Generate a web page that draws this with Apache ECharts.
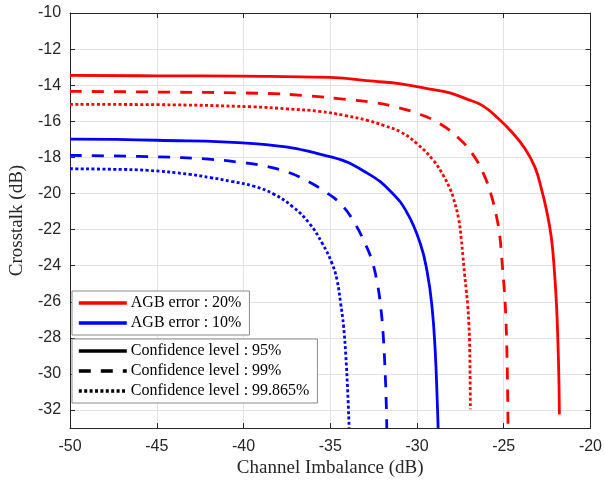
<!DOCTYPE html>
<html>
<head>
<meta charset="utf-8">
<script src="https://cdn.jsdelivr.net/npm/echarts@6/dist/echarts.min.js"></script>
<style>html,body{margin:0;padding:0;background:#fff}#c{width:605px;height:483px}</style>
</head>
<body>
<div id="c"></div>
<script>
// Data: [channel imbalance (dB), crosstalk (dB)]
const red95 = [[-50,-13.46],[-45,-13.48],[-40,-13.5],[-35,-13.57],[-32.5,-13.78],[-30.93,-13.93],[-29.05,-14.25],[-28.11,-14.43],[-27.16,-14.76],[-26.22,-15.13],[-25.28,-15.87],[-24.52,-16.61],[-23.77,-17.52],[-23.2,-18.54],[-22.83,-19.73],[-22.55,-20.85],[-22.26,-22.4],[-22.07,-24.4],[-21.95,-26.3],[-21.88,-28.1],[-21.82,-30.2],[-21.79,-32.24]];
const red99 = [[-50,-14.34],[-45,-14.38],[-39.04,-14.45],[-36.4,-14.58],[-33.76,-14.82],[-32.53,-14.95],[-31.12,-15.23],[-29.9,-15.59],[-28.7,-16.12],[-27.64,-16.9],[-26.79,-17.82],[-26.13,-18.98],[-25.69,-20.19],[-25.37,-21.48],[-25.22,-22.4],[-25.12,-23.5],[-24.97,-25.3],[-24.88,-26.8],[-24.82,-28.6],[-24.78,-30.5],[-24.75,-33]];
const red99865 = [[-50,-15.06],[-45,-15.08],[-39.41,-15.2],[-37.53,-15.31],[-35.65,-15.45],[-34.14,-15.68],[-32.82,-15.96],[-31.88,-16.24],[-30.93,-16.6],[-29.99,-17.25],[-29.05,-18.17],[-28.48,-19.0],[-28.1,-19.73],[-27.92,-20.19],[-27.6,-21.4],[-27.44,-22.58],[-27.35,-23.5],[-27.26,-24.42],[-27.16,-25.34],[-27.07,-26.26],[-27.01,-27.18],[-26.97,-28.1],[-26.94,-29.94],[-26.92,-31.96]];
const blue95 = [[-50,-16.99],[-45,-17.05],[-39.4,-17.24],[-34.9,-17.99],[-32.82,-18.9],[-31.5,-19.9],[-30.55,-21.1],[-29.8,-22.8],[-29.42,-24.3],[-29.14,-26.2],[-28.95,-28.7],[-28.82,-31.8],[-28.78,-33]];
const blue99 = [[-50,-17.89],[-45,-17.97],[-42,-18.1],[-40,-18.3],[-38.85,-18.47],[-37.5,-18.8],[-36.5,-19.22],[-35.3,-19.9],[-34.33,-20.65],[-33.58,-21.66],[-33.0,-22.76],[-32.6,-23.7],[-32.3,-24.9],[-32.1,-26.2],[-31.95,-27.8],[-31.83,-30.0],[-31.76,-32.0],[-31.74,-33]];
const blue99865 = [[-50,-18.63],[-47.5,-18.66],[-45.5,-18.72],[-43.1,-18.94],[-41.9,-19.12],[-40.7,-19.33],[-39.4,-19.6],[-38.3,-20.01],[-37.16,-20.74],[-36.2,-21.66],[-35.46,-22.76],[-34.9,-23.87],[-34.61,-24.79],[-34.4,-26.08],[-34.23,-27.37],[-34.1,-29.02],[-33.99,-31.04],[-33.91,-33]];

const xMin = -50, xMax = -20, xStep = 5;
const yMin = -33, yMax = -10;
const yTicks = [-32, -30, -28, -26, -24, -22, -20, -18, -16, -14, -12, -10];
const xName = 'Channel Imbalance (dB)';
const yName = 'Crosstalk (dB)';
const errorLegend = ['AGB error : 20%', 'AGB error : 10%'];
const confLegend = ['Confidence level : 95%', 'Confidence level : 99%', 'Confidence level : 99.865%'];

const RED = '#ff0000', BLUE = '#0000ff';
const W = 2.8;
const DASH = [12, 10];
const DOT = [3, 2.4];

const axisCol = '#262626';
const gridCol = '#e3e3e3';
const tickFont = {fontFamily: 'Liberation Sans', fontSize: 16, color: axisCol};
const titleFont = {fontFamily: 'Liberation Serif', fontSize: 19, color: axisCol};

function curve(name, data, color, type) {
  return {name, type: 'line', data, showSymbol: false, symbol: 'none', smooth: 0.45,
    lineStyle: {color, width: W, type, cap: 'butt'}, itemStyle: {color}, z: 3, silent: true};
}
function dummy(name, color, type) {
  return {name, type: 'line', data: [], symbol: 'none', showSymbol: false,
    lineStyle: {color, width: 3.6, type, cap: 'butt'}, itemStyle: {color, opacity: 0}};
}
const legendBase = {
  orient: 'vertical', left: 72,
  itemWidth: 48, itemHeight: 14, itemGap: 4,
  backgroundColor: '#fff', borderColor: '#8a8a8a', borderWidth: 1, borderRadius: 0,
  padding: [4, 8, 4, 5], selectedMode: false,
  itemStyle: {opacity: 0},
  lineStyle: {width: 3.6, type: 'inherit', color: 'inherit', cap: 'butt'},
  textStyle: {fontFamily: 'Liberation Serif', fontSize: 16, color: '#000', padding: [0, 0, 0, -1]}
};

const chart = echarts.init(document.getElementById('c'), null, {renderer: 'canvas'});
chart.setOption({
  animation: false,
  backgroundColor: '#fff',
  grid: {left: 63, right: 12, top: 13, bottom: 54, containLabel: false},
  xAxis: [{
    type: 'value', min: xMin, max: xMax, interval: xStep,
    name: xName, nameLocation: 'middle', nameGap: 30, nameTextStyle: titleFont,
    axisLine: {show: true, onZero: false, lineStyle: {color: axisCol, width: 1}},
    axisTick: {show: true, inside: true, length: 5, lineStyle: {color: axisCol}},
    axisLabel: Object.assign({margin: 10}, tickFont),
    splitLine: {show: true, lineStyle: {color: gridCol, width: 1}}
  }, {
    type: 'value', min: xMin, max: xMax, interval: xStep, position: 'top',
    axisLine: {show: true, onZero: false, lineStyle: {color: axisCol, width: 1}},
    axisTick: {show: true, inside: true, length: 5, lineStyle: {color: axisCol}},
    axisLabel: {show: false}, splitLine: {show: false}
  }],
  yAxis: [{
    type: 'value', min: yMin, max: yMax, interval: 1,
    name: yName, nameLocation: 'middle', nameGap: 40, nameTextStyle: titleFont,
    axisLine: {show: true, onZero: false, lineStyle: {color: axisCol, width: 1}},
    axisTick: {show: true, inside: true, length: 5, customValues: yTicks, lineStyle: {color: axisCol}},
    axisLabel: Object.assign({margin: 9, customValues: yTicks,
      formatter: v => (Math.round(v) % 2 === 0 ? String(v) : '')}, tickFont),
    splitLine: {show: true, lineStyle: {color: gridCol, width: 1}}
  }, {
    type: 'value', min: yMin, max: yMax, interval: 1, position: 'right',
    axisLine: {show: true, onZero: false, lineStyle: {color: axisCol, width: 1}},
    axisTick: {show: true, inside: true, length: 5, customValues: yTicks, lineStyle: {color: axisCol}},
    axisLabel: {show: false}, splitLine: {show: false}
  }],
  legend: [
    Object.assign({}, legendBase, {data: errorLegend, top: 291}),
    Object.assign({}, legendBase, {data: confLegend, top: 339})
  ],
  series: [
    curve('r95', red95, RED, 'solid'),
    curve('r99', red99, RED, DASH),
    curve('r99865', red99865, RED, DOT),
    curve('b95', blue95, BLUE, 'solid'),
    curve('b99', blue99, BLUE, DASH),
    curve('b99865', blue99865, BLUE, DOT),
    dummy(errorLegend[0], RED, 'solid'),
    dummy(errorLegend[1], BLUE, 'solid'),
    dummy(confLegend[0], '#000', 'solid'),
    dummy(confLegend[1], '#000', DASH),
    dummy(confLegend[2], '#000', DOT)
  ]
});
</script>
</body>
</html>
